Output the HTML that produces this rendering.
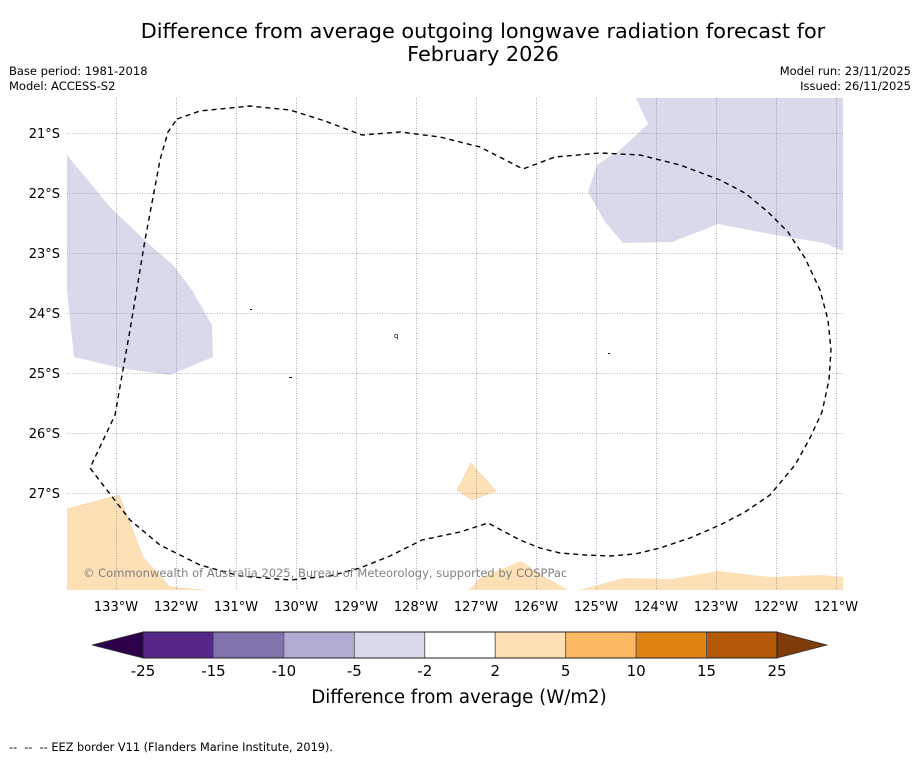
<!DOCTYPE html>
<html><head><meta charset="utf-8">
<style>
html,body{margin:0;padding:0;background:#fff;}
body{width:919px;height:758px;overflow:hidden;font-family:"DejaVu Sans","Liberation Sans",sans-serif;}
text{white-space:pre;}
</style></head>
<body>
<svg id="chart" width="919" height="758" xmlns="http://www.w3.org/2000/svg" font-family="DejaVu Sans, Liberation Sans, sans-serif">
<rect width="919" height="758" fill="#fff"/>
<text x="483" y="38" font-size="20.8" text-anchor="middle">Difference from average outgoing longwave radiation forecast for</text>
<text x="483" y="61" font-size="20.8" text-anchor="middle">February 2026</text>
<text x="9" y="75" font-size="11.5">Base period: 1981-2018</text>
<text x="9" y="90" font-size="11.5">Model: ACCESS-S2</text>
<text x="911" y="75" font-size="11.5" text-anchor="end">Model run: 23/11/2025</text>
<text x="911" y="90" font-size="11.5" text-anchor="end">Issued: 26/11/2025</text>
<defs><clipPath id="mapclip"><rect x="67" y="98" width="776" height="492"/></clipPath></defs>
<g id="map" clip-path="url(#mapclip)">
  <polygon fill="#d8daeb" points="636,98 648,124 620,150 597,165 588,192 605,222 623,243 672,242 718,224 770,234 824,243 843,251 843,98"/>
  <polygon fill="#d8daeb" points="67,155 110,207 150,245 173,265 192,290 212,325 213,357 170,375 120,368 74,357 67,290"/>
  <polygon fill="#fee0b6" stroke="#f0cc9a" stroke-width="0.5" points="67,509 119,495 143,557 170,587 215,591 67,591 67,545"/>
  <polygon fill="#fee0b6" stroke="#f0cc9a" stroke-width="0.5" points="471,463 496,491 472,500 457,490"/>
  <polygon fill="#fee0b6" points="468,591 480,578 521,561 545,577 570,591"/>
  <polygon fill="#fee0b6" points="575,591 624,578 671,579 718,571 770,577 820,575 843,577 843,591"/>
  <g id="grid"></g>
  <path fill="none" stroke="#000" stroke-width="1.4" stroke-dasharray="5,4" d="M177,119 L200,111 250,106 290,110 325,121 362,135 400,132 440,137 480,147 523,169 555,157 600,153 640,155 680,165 720,180 745,193 768,212 788,232 805,258 820,290 828,320 831,350 829,380 822,412 810,438 795,465 770,495 745,512 720,525 690,538 660,548 635,554 610,556 585,555 560,553 540,548 520,540 488,523 460,532 422,540 390,556 360,568 330,576 290,580 240,576 200,565 160,545 130,520 90,468 115,415 130,330 145,240 160,160 168,132 Z"/>
  <text x="394" y="338" font-size="7">q</text>
  <rect x="250" y="309" width="2" height="1" fill="#000"/>
  <rect x="289" y="377" width="3" height="1" fill="#000"/>
  <rect x="608" y="353" width="2" height="1" fill="#000"/>
  <text x="83" y="577" font-size="11.5" fill="#808080">© Commonwealth of Australia 2025, Bureau of Meteorology, supported by COSPPac</text>
</g>
<g id="axes"></g>
<g id="colorbar"></g>
<text x="459" y="703" font-size="18.2" text-anchor="middle">Difference from average (W/m2)</text>
<text x="9" y="751" font-size="11.3" xml:space="preserve">--  --  -- EEZ border V11 (Flanders Marine Institute, 2019).</text>
</svg>
<script>
const lonTicks = [133,132,131,130,129,128,127,126,125,124,123,122,121];
const latTicks = [21,22,23,24,25,26,27];
const cbLevels = [-25,-15,-10,-5,-2,2,5,10,15,25];
const cbColors = ["#542788","#8073ac","#b2abd2","#d8daeb","#ffffff","#fee0b6","#fdb863","#e08214","#b35806"];
const cbExtendColors = ["#2d004b","#7f3b08"];

const NS="http://www.w3.org/2000/svg";
function xLon(l){return 116+(133-l)*60;}
function yLat(l){return 133+(l-21)*60;}
function mk(tag,attrs,parent){const e=document.createElementNS(NS,tag);for(const k in attrs)e.setAttribute(k,attrs[k]);parent.appendChild(e);return e;}
const grid=document.getElementById('grid'), axes=document.getElementById('axes'), cb=document.getElementById('colorbar');
lonTicks.forEach(l=>{
  const x=xLon(l)+0.5;
  const g=mk('line',{x1:x,x2:x,y1:98,y2:590,stroke:'#777','stroke-width':0.6,'stroke-dasharray':'1,1.5'},grid);
  
  
  const t=mk('text',{x:xLon(l),y:611,'font-size':13,'text-anchor':'middle'},axes);
  t.textContent=l+'°W';
  
  
});
latTicks.forEach(l=>{
  const y=yLat(l)+0.5;
  const g=mk('line',{x1:67,x2:843,y1:y,y2:y,stroke:'#777','stroke-width':0.6,'stroke-dasharray':'1,1.5'},grid);
  
  
  const t=mk('text',{x:60,y:yLat(l)+5,'font-size':13,'text-anchor':'end'},axes);
  t.textContent=l+'°S';
  
  
});
const cbX0=143, cbX1=777, cbY=632, cbH=26;
const bw=(cbX1-cbX0)/cbColors.length;
function xCb(i){return cbX0+i*bw;}
const la=mk('polygon',{points:`92,${cbY+cbH/2} ${cbX0},${cbY} ${cbX0},${cbY+cbH}`,fill:cbExtendColors[0],stroke:'#333','stroke-width':0.8},cb);


const ra=mk('polygon',{points:`827,${cbY+cbH/2} ${cbX1},${cbY} ${cbX1},${cbY+cbH}`,fill:cbExtendColors[1],stroke:'#333','stroke-width':0.8},cb);


cbColors.forEach((c,i)=>{
  const r=mk('rect',{x:xCb(i),y:cbY,width:bw,height:cbH,fill:c,stroke:'#555','stroke-width':0.8},cb);
  
  
});
mk('rect',{x:cbX0,y:cbY,width:cbX1-cbX0,height:cbH,fill:'none',stroke:'#222','stroke-width':1},cb);
cbLevels.forEach((v,i)=>{
  const t=mk('text',{x:xCb(i),y:676,'font-size':15,'text-anchor':'middle'},cb);
  t.textContent=v;
  
  
});
</script>
</body></html>
